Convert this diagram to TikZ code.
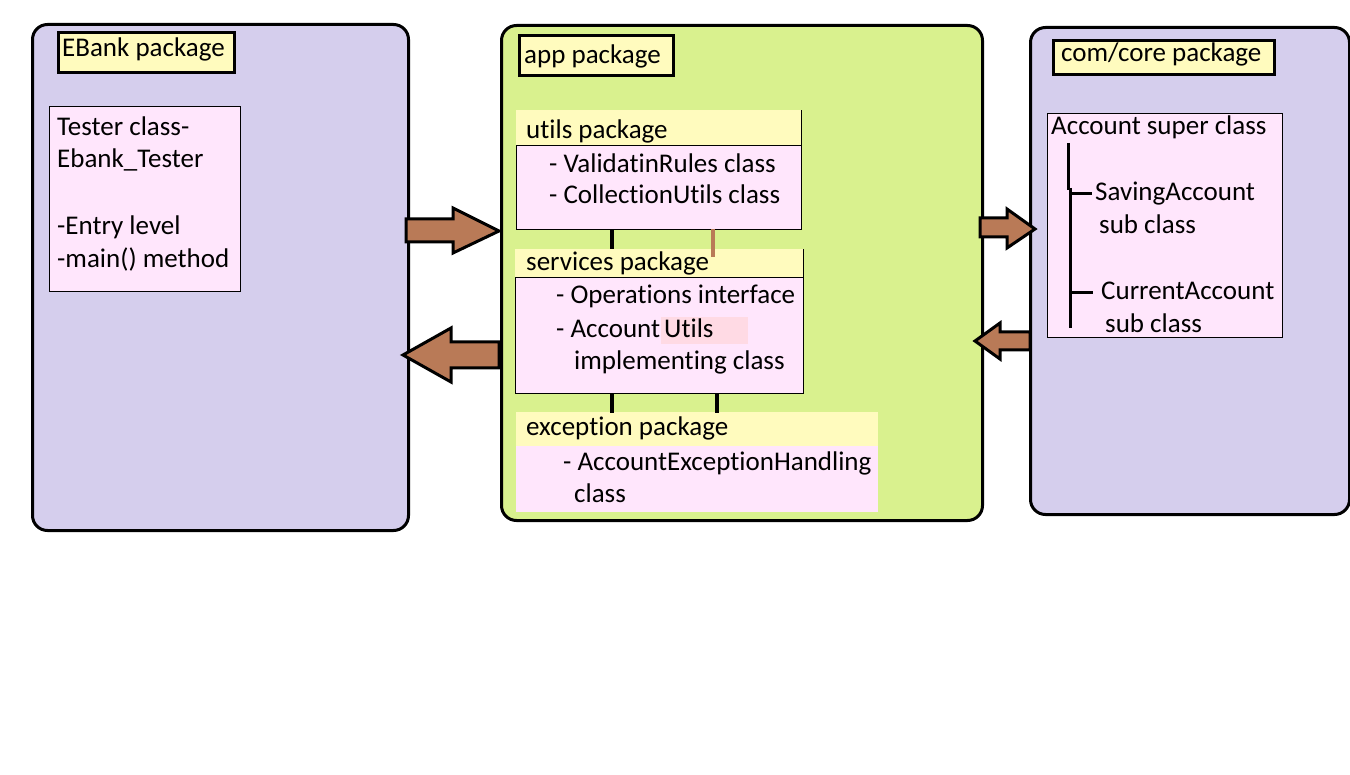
\documentclass[tikz,border=0pt]{standalone}
\usepackage{fontspec}
\setmainfont{Carlito}[Ligatures=NoCommon]
\usetikzlibrary{calc}
\definecolor{lav}{RGB}{213,206,237}
\definecolor{grn}{RGB}{217,241,142}
\definecolor{ylw}{RGB}{255,251,190}
\definecolor{pnk}{RGB}{255,230,252}
\definecolor{brn}{RGB}{185,122,87}
\definecolor{hil}{RGB}{255,218,228}
\tikzset{
  x=1pt,y=-1pt,
  outer/.style={draw=black,line width=3pt,rounded corners=15pt,anchor=north west,inner sep=0pt},
  label box/.style={draw=black,line width=3pt,fill=ylw,anchor=north west,inner sep=0pt},
  cls/.style={draw=black,line width=0.8pt,fill=pnk,anchor=north west,inner sep=0pt},
  txt/.style={anchor=base west,inner sep=0pt,font=\fontsize{27}{33}\selectfont},
  blockarrow/.style={draw=black,line width=3pt,fill=brn,line join=miter},
  link/.style={line width=4pt},
}
\begin{document}
\begin{tikzpicture}
\useasboundingbox (0,0) rectangle (1350,775);
% outer packages
\node[outer,fill=lav,minimum width=376pt,minimum height=506pt] (ebank) at (31,23) {};
\node[outer,fill=grn,minimum width=481pt,minimum height=495pt] (app) at (500,24) {};
\node[outer,fill=lav,minimum width=319pt,minimum height=487pt] (core) at (1029,26) {};
% labels
\node[label box,minimum width=176pt,minimum height=40pt] (ebanklbl) at (57,31) {};
\node[txt] (ebanktxt) at (62,57) {EBank package};
\node[label box,minimum width=154pt,minimum height=40pt] (applbl) at (518,34) {};
\node[txt] (apptxt) at (524,64) {app package};
\node[label box,minimum width=221pt,minimum height=34pt] (corelbl) at (1052,39) {};
\node[txt] (coretxt) at (1061,62) {com/core package};
% Tester class
\node[cls,minimum width=191pt,minimum height=185pt] (tester) at (49,106) {};
\node[txt] (t1) at (57,136) {Tester class-};
\node[txt] (t2) at (57,168) {Ebank\_Tester};
\node[txt] (t3) at (57,235) {-Entry level};
\node[txt] (t4) at (57,268) {-main() method};
% utils package
\node[cls,minimum width=285pt,minimum height=119pt] (utils) at (516,110) {};
\fill[ylw] ($(utils.north west)+(0.4,0.4)$) rectangle ($(utils.north east)+(-0.4,35)$);
\draw[line width=0.8pt] ($(utils.north west)+(0,35)$) -- ($(utils.north east)+(0,35)$);
\node[txt] (u0) at (526,139) {utils package};
\node[txt] (u1) at (549,173) {- ValidatinRules class};
\node[txt] (u2) at (549,204) {- CollectionUtils class};
% services package
\node[cls,minimum width=288pt,minimum height=144pt] (services) at (515,249) {};
\fill[ylw] ($(services.north west)+(0.4,0.4)$) rectangle ($(services.north east)+(-0.4,28)$);
\draw[line width=0.8pt] ($(services.north west)+(0,28)$) -- ($(services.north east)+(0,28)$);
\node[txt] (s0) at (526,271) {services package};
\node[txt] (s1) at (556,304) {- Operations interface};
\fill[hil] (661,317) rectangle (748,344);
\node[txt] (s2) at (556,338) {- Account};
\node[txt] (s2b) at (664,338) {Utils};
\node[txt] (s3) at (574,370) {implementing class};
% exception package
\node[anchor=north west,inner sep=0pt,fill=pnk,minimum width=362pt,minimum height=100pt] (exception) at (516,412) {};
\fill[ylw] (exception.north west) rectangle ($(exception.north east)+(0,34)$);
\node[txt] (e0) at (526,436) {exception package};
\node[txt] (e1) at (563,471) {- AccountExceptionHandling};
\node[txt] (e2) at (574,502) {class};
% links between app sub packages
\draw[link] ($(utils.south west)+(96,0)$) -- ($(services.north west)+(97,0)$);
\draw[line width=4pt,brn] ($(utils.south west)+(197,-1)$) -- ($(utils.south west)+(197,27)$);
\draw[link] ($(services.south west)+(97,0)$) -- ($(exception.north west)+(96,1)$);
\draw[link] ($(services.south west)+(202,0)$) -- ($(exception.north west)+(201,1)$);
% Account class
\node[cls,minimum width=235pt,minimum height=224pt] (account) at (1047,113) {};
\node[txt] (a0) at (1051,135) {Account super class};
\coordinate (tree top) at (1068,143);
\coordinate (tree mid) at (1068,190);
\coordinate (tree bot) at (1070,328);
\draw[line width=3pt] (tree top) -- (tree mid);
\draw[line width=3pt] (1070,188) -- (tree bot);
\draw[line width=3pt] (1070,194) -- (1092,194);
\draw[line width=3pt] (1070,293) -- (1093,293);
\node[txt] (a1) at (1095,201) {SavingAccount};
\node[txt] (a2) at (1099,234) {sub class};
\node[txt] (a3) at (1101,300) {CurrentAccount};
\node[txt] (a4) at (1105,333) {sub class};
% block arrows
\draw[blockarrow] (406,219) -- (453,219) -- (453,208) -- (499,231) -- (453,253) -- (453,242) -- (406,242) -- cycle;
\draw[blockarrow] (499,342) -- (451,342) -- (451,328) -- (403,355) -- (451,382) -- (451,368) -- (499,368) -- cycle;
\draw[blockarrow] (980,218) -- (1007,218) -- (1007,209) -- (1035,229) -- (1007,248) -- (1007,237) -- (980,237) -- cycle;
\draw[blockarrow] (1030,332) -- (1000,332) -- (1000,323) -- (975,341) -- (1000,359) -- (1000,350) -- (1030,350) -- cycle;
\end{tikzpicture}
\end{document}
